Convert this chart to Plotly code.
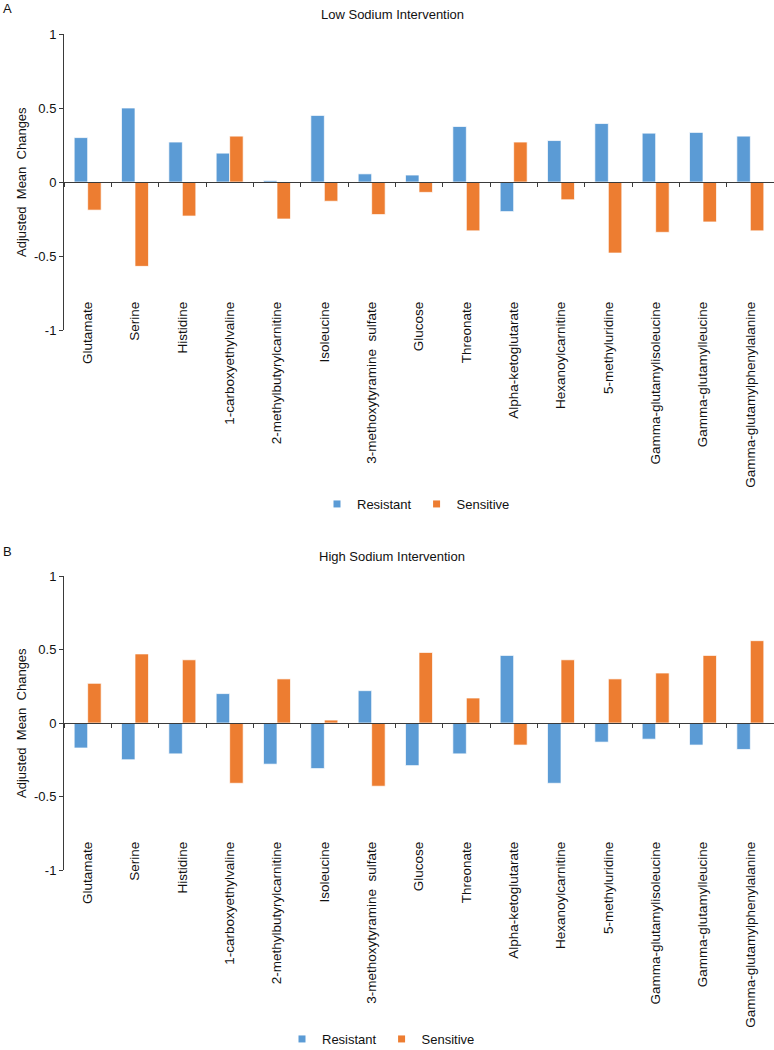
import plotly.graph_objects as go

categories = ["Glutamate", "Serine", "Histidine", "1-carboxyethylvaline",
              "2-methylbutyrylcarnitine", "Isoleucine", "3-methoxytyramine  sulfate",
              "Glucose", "Threonate", "Alpha-ketoglutarate", "Hexanoylcarnitine",
              "5-methyluridine", "Gamma-glutamylisoleucine", "Gamma-glutamylleucine",
              "Gamma-glutamylphenylalanine"]

resistant_low = [0.30, 0.50, 0.27, 0.195, 0.01, 0.45, 0.055, 0.047, 0.375, -0.20,
                 0.28, 0.395, 0.33, 0.335, 0.31]
sensitive_low = [-0.19, -0.57, -0.23, 0.31, -0.25, -0.13, -0.22, -0.07, -0.33, 0.27,
                 -0.12, -0.48, -0.34, -0.27, -0.33]

resistant_high = [-0.17, -0.25, -0.21, 0.20, -0.28, -0.31, 0.22, -0.29, -0.21, 0.46,
                  -0.41, -0.13, -0.11, -0.15, -0.18]
sensitive_high = [0.27, 0.47, 0.43, -0.41, 0.30, 0.02, -0.43, 0.48, 0.17, -0.15,
                  0.43, 0.30, 0.34, 0.46, 0.56]

series_names = ["Resistant", "Sensitive"]
titles = ["Low Sodium Intervention", "High Sodium Intervention"]
panel_letters = ["A", "B"]
y_ticks = [-1, -0.5, 0, 0.5, 1]
y_ticktext = ["-1", "-0.5", "0", "0.5", "1"]

BLUE = "#5B9BD5"
ORANGE = "#ED7D31"
FONT = "Liberation Sans, Arial, sans-serif"
H = 1050.0
W_L = 64.0
W_PLOT = 710.0

def py(px):
    return 1 - px / H

def pxx(px):
    return (px - W_L) / W_PLOT

fig = go.Figure()

panels = [
    dict(res=resistant_low, sen=sensitive_low, top=34, bot=330, lab=298,
         legend="legend", title_y=15, letter_y=9),
    dict(res=resistant_high, sen=sensitive_high, top=576, bot=870, lab=838,
         legend="legend2", title_y=556, letter_y=551),
]

layout_axes = {}
annotations = []
for i, p in enumerate(panels):
    xb = "x" if i == 0 else "x2"
    yb = "y" if i == 0 else "y2"
    xl = "x3" if i == 0 else "x4"
    xb_key = "xaxis" if i == 0 else "xaxis2"
    yb_key = "yaxis" if i == 0 else "yaxis2"
    xl_key = "xaxis3" if i == 0 else "xaxis4"
    dom = [py(p["bot"]), py(p["top"])]
    zero_pos = (dom[0] + dom[1]) / 2

    for name, vals, col in [(series_names[0], p["res"], BLUE), (series_names[1], p["sen"], ORANGE)]:
        fig.add_trace(go.Bar(x=categories, y=vals, name=name, xaxis=xb, yaxis=yb,
                             marker=dict(color=col, line=dict(color="rgba(255,255,255,0.7)", width=1)),
                             showlegend=False))
        fig.add_trace(go.Scatter(x=[None], y=[None], mode="markers", name=name,
                                 xaxis=xb, yaxis=yb, legend=p["legend"],
                                 marker=dict(symbol="square", size=7, color=col)))
    # helper trace for label axis
    fig.add_trace(go.Scatter(x=categories, y=[0] * len(categories), mode="markers",
                             xaxis=xl, yaxis=yb, marker=dict(opacity=0, size=1),
                             hoverinfo="skip", showlegend=False))

    layout_axes[xb_key] = dict(type="category", categoryarray=categories, categoryorder="array",
                               range=[-0.5, len(categories) - 0.5], anchor="free",
                               position=zero_pos, showline=True, linecolor="#3a3a3a",
                               linewidth=1, ticks="outside", tickson="boundaries", ticklen=4,
                               tickcolor="#3a3a3a", showticklabels=False, showgrid=False,
                               zeroline=False, domain=[0, 1])
    layout_axes[xl_key] = dict(type="category", categoryarray=categories, categoryorder="array",
                               range=[-0.5, len(categories) - 0.5], anchor="free",
                               overlaying=xb, position=py(p["lab"]), showline=False,
                               ticks="", tickangle=-90, showgrid=False, zeroline=False,
                               tickfont=dict(family=FONT, size=13.5, color="#111"))
    layout_axes[yb_key] = dict(domain=dom, range=[-1, 1], anchor=xb, tickvals=y_ticks,
                               ticktext=y_ticktext, showline=True, linecolor="#3a3a3a",
                               linewidth=1, ticks="outside", ticklen=4, tickcolor="#3a3a3a",
                               showgrid=False, zeroline=False,
                               tickfont=dict(family=FONT, size=13, color="#111"))

    annotations.append(dict(text=titles[i], xref="paper", yref="paper", x=pxx(392), y=py(p["title_y"]),
                            xanchor="center", yanchor="middle", showarrow=False,
                            font=dict(family=FONT, size=13, color="#111")))
    annotations.append(dict(text=panel_letters[i], xref="paper", yref="paper", x=pxx(1), y=py(p["letter_y"]),
                            xanchor="left", yanchor="middle", showarrow=False,
                            font=dict(family=FONT, size=13, color="#111")))
    annotations.append(dict(text="Adjusted\u00a0 Mean\u00a0 Changes", xref="paper", yref="paper", x=pxx(21),
                            y=zero_pos, xanchor="center", yanchor="middle", textangle=-90,
                            showarrow=False, font=dict(family=FONT, size=13, color="#111")))

fig.update_layout(
    width=774, height=1050,
    margin=dict(l=64, r=0, t=0, b=0, autoexpand=False),
    paper_bgcolor="white", plot_bgcolor="white",
    barmode="group", bargap=0.43, bargroupgap=0,
    annotations=annotations,
    legend=dict(orientation="h", x=pxx(416), y=py(504), xanchor="center", yanchor="middle",
                font=dict(family=FONT, size=13, color="#111"), itemwidth=30,
                bgcolor="rgba(0,0,0,0)"),
    legend2=dict(orientation="h", x=pxx(381), y=py(1039), xanchor="center", yanchor="middle",
                 font=dict(family=FONT, size=13, color="#111"), itemwidth=30,
                 bgcolor="rgba(0,0,0,0)"),
    **layout_axes,
)

fig.write_html("out.html", config={"displayModeBar": False},
               post_script="document.body.style.margin='0';document.body.style.overflow='hidden';")
